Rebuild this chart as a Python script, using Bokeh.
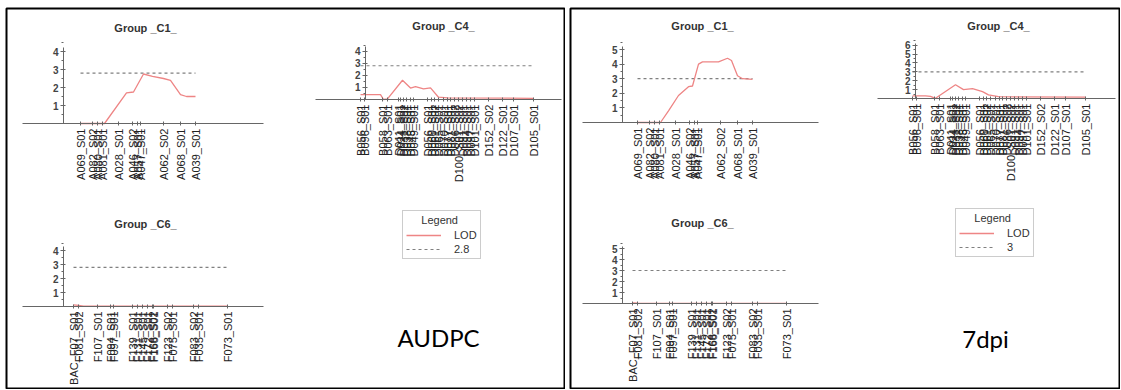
from bokeh.plotting import figure
from bokeh.models import (Range1d, FixedTicker, Legend, LegendItem, Label, LinearAxis)
from bokeh.layouts import row
from bokeh.embed import file_html
from bokeh.resources import INLINE

# ---------------- data ----------------
c1_names = ["A069_S01", "A082_S02", "A080_S01", "A081_S01", "A028_S01", "A046_S02",
            "A057_S01", "A047_S01", "A062_S02", "A068_S01", "A039_S01"]
c1_pos = [0, 6, 8.5, 11, 19, 26, 28.5, 30, 41.5, 50, 57.5]

c4_names = ["B056_S01", "B096_S01", "B058_S01", "B063_S01", "D011_S01", "D024_S01",
            "D031_S02", "D038_S01", "D045_S01", "D049_S01", "D056_S01", "D060_S01",
            "D061_S02", "D065_S01", "D070_S01", "D077_S01", "D081_S01", "D086_S02",
            "D100_S01_S02", "D091_S01", "D094_S01", "D097_S01", "D101_S01",
            "D152_S02", "D122_S01", "D107_S01", "D105_S01"]
c4_pos = [0, 2, 11, 13.5, 19, 20, 21.5, 23, 25, 26.5, 33.5, 35.5, 37, 39, 41.5,
          43.5, 45, 47, 49, 51, 53, 55, 57, 64, 71, 76.5, 86.5]

c6_names = ["BAC_F07_S01", "F081_S02", "F107_S01", "F094_S01", "F097_S01", "F139_S01",
            "F131_S01", "F145_S01", "F172_S01", "F166_S02", "F168_S01", "F123_S02",
            "F075_S01", "F083_S02", "F035_S01", "F073_S01"]
c6_pos = [0, 2.5, 12, 18.5, 20, 29.5, 32, 34.5, 37, 39.5, 40, 47, 49.5, 60, 62.5, 77]

# LOD profiles, AUDPC
audpc_c1_x = [0, 11, 12, 23, 26.5, 31.5, 36, 41.5, 45, 50, 53, 57.5]
audpc_c1_lod = [0, 0, 0, 1.7, 1.75, 2.75, 2.62, 2.5, 2.4, 1.6, 1.5, 1.5]
audpc_c4_x = [0, 10, 11.5, 13.5, 21, 25, 27.5, 31.5, 35, 39, 43.5, 86.5]
audpc_c4_lod = [0.41, 0.41, 0.0, 0.05, 1.6, 0.95, 1.07, 0.88, 0.96, 0.19, 0.13, 0.1]
audpc_c6_x = [0, 2.5, 5, 77]
audpc_c6_lod = [0.12, 0.08, 0.02, 0.02]
audpc_threshold = 2.8

# LOD profiles, 7dpi
dpi7_c1_x = [0, 11.5, 15.5, 20.5, 25.5, 27.5, 30.5, 32.5, 40.5, 45, 47, 50, 52.5, 57.5]
dpi7_c1_lod = [0, 0, 0.8, 1.85, 2.45, 2.5, 4.0, 4.15, 4.15, 4.4, 4.25, 3.2, 3.0, 2.95]
dpi7_c4_x = [0, 6.5, 9, 11.5, 21.5, 25.5, 30, 35, 38, 43, 86.5]
dpi7_c4_lod = [0.3, 0.3, 0.25, 0.02, 1.55, 1.0, 1.1, 0.77, 0.4, 0.2, 0.15]
dpi7_c6_x = [0, 2.5, 5, 77]
dpi7_c6_lod = [0.05, 0.03, 0.02, 0.02]
dpi7_threshold = 3.0

LOD_COLOR = "#ee8585"
THR_COLOR = "#808080"
AX_COLOR = "#666666"
TXT_COLOR = "#222222"
FONT = "Liberation Sans"


def make_panel(canvas_w, canvas_h, frame_box):
    fl, fr, ft, fb = frame_box  # px of frame edges, relative to canvas
    p = figure(width=canvas_w, height=canvas_h, x_range=Range1d(0, 1), y_range=Range1d(0, 1),
               x_axis_type=None, y_axis_type=None,
               output_backend="svg", toolbar_location=None,
               min_border_left=fl, min_border_right=canvas_w - fr,
               min_border_top=ft, min_border_bottom=canvas_h - fb)
    p.grid.visible = False
    p.outline_line_color = "black"
    p.outline_line_width = 2
    p.background_fill_color = "white"
    p.border_fill_color = "white"
    return p


def add_group(p, key, frame_box, title, names, pos, cx, cy, thr, geo):
    fl, fr, ft, fb = frame_box
    a, xa0, xa1, yax, b, s, ymax, tx, ty = geo
    xn, yn = key + "x", key + "y"
    p.extra_x_ranges[xn] = Range1d((fl - a) / 2.0, (fr - a) / 2.0)
    p.extra_y_ranges[yn] = Range1d((b - fb) / s, (b - ft) / s)

    xa = LinearAxis(x_range_name=xn, y_range_name=yn, fixed_location=0,
                    bounds=((xa0 - a) / 2.0, (xa1 - a) / 2.0))
    xa.ticker = FixedTicker(ticks=pos, minor_ticks=[])
    xa.major_label_overrides = {float(v): n for v, n in zip(pos, names)}
    xa.major_label_orientation = 1.5707963
    xa.major_label_text_font = FONT
    xa.major_label_text_font_size = "11px"
    xa.major_label_text_color = TXT_COLOR
    xa.major_label_standoff = 3
    xa.axis_line_color = AX_COLOR
    xa.major_tick_line_color = AX_COLOR
    xa.major_tick_in = 2
    xa.major_tick_out = 2
    p.add_layout(xa, "below")

    yticks = list(range(1, int(ymax) + 1))
    ya = LinearAxis(x_range_name=xn, y_range_name=yn, fixed_location=(yax - a) / 2.0,
                    bounds=(0, ymax))
    ya.ticker = FixedTicker(ticks=yticks,
                            minor_ticks=[t - 0.5 for t in yticks] + [yticks[-1] + 0.5])
    ya.major_label_text_font = FONT
    ya.major_label_text_font_size = "10px"
    ya.major_label_text_font_style = "bold"
    ya.major_label_text_color = "#444444"
    ya.major_label_standoff = 2
    ya.axis_line_color = AX_COLOR
    ya.major_tick_line_color = AX_COLOR
    ya.minor_tick_line_color = AX_COLOR
    ya.major_tick_in = 2
    ya.major_tick_out = 3
    ya.minor_tick_in = 0
    ya.minor_tick_out = 2
    p.add_layout(ya, "left")

    r_thr = p.line(x=[pos[0], pos[-1]], y=[thr, thr], line_color=THR_COLOR, line_width=1.2,
                   line_dash="3 3", x_range_name=xn, y_range_name=yn)
    r_lod = p.line(x=cx, y=cy, line_color=LOD_COLOR, line_width=1.3,
                   x_range_name=xn, y_range_name=yn)

    p.add_layout(Label(x=tx - fl, y=fb - ty, x_units="screen", y_units="screen",
                       text=title, text_font=FONT, text_font_size="11px",
                       text_font_style="bold", text_color="#333333",
                       text_align="center", text_baseline="middle"))
    return r_lod, r_thr


def add_legend(p, frame_box, r_lod, r_thr, thr_label, box_lb, caption, cap_c):
    fl, fr, ft, fb = frame_box
    leg = Legend(items=[LegendItem(label="LOD", renderers=[r_lod]),
                        LegendItem(label=thr_label, renderers=[r_thr])],
                 title="\u00a0\u00a0\u00a0\u00a0\u00a0Legend",
                 location=(box_lb[0] - fl, fb - box_lb[1]))
    leg.title_text_font = FONT
    leg.title_text_font_size = "11px"
    leg.title_text_font_style = "normal"
    leg.title_text_color = "#333333"
    leg.title_standoff = 3
    leg.label_text_font = FONT
    leg.label_text_font_size = "11px"
    leg.label_text_color = "#333333"
    leg.label_height = 10
    leg.label_standoff = 13
    leg.glyph_width = 35
    leg.glyph_height = 10
    leg.padding = 3
    leg.spacing = 2
    leg.margin = 0
    leg.border_line_color = "#999999"
    leg.border_line_width = 1
    leg.background_fill_color = "white"
    p.add_layout(leg)
    p.add_layout(Label(x=cap_c[0] - fl, y=fb - cap_c[1], x_units="screen", y_units="screen",
                       text=caption, text_font="Lato", text_font_size="24px",
                       text_color="black", text_align="center", text_baseline="middle"))


# ---- left panel (AUDPC): canvas page x 0..565 ----
LF = (6, 564, 8, 388)
left = make_panel(565, 389, LF)
lod_l, thr_l = add_group(left, "c1", LF, "Group _C1_", c1_names, c1_pos, audpc_c1_x,
                         audpc_c1_lod, audpc_threshold,
                         (80, 22, 263, 63, 123, 18.0, 4.2, 145, 27))
add_group(left, "c4", LF, "Group _C4_", c4_names, c4_pos, audpc_c4_x, audpc_c4_lod,
          audpc_threshold, (360, 315, 561, 365, 99, 12.05, 4.4, 443, 25))
add_group(left, "c6", LF, "Group _C6_", c6_names, c6_pos, audpc_c6_x, audpc_c6_lod,
          audpc_threshold, (73, 22, 263, 63, 306, 14.0, 4.3, 145, 223))
add_legend(left, LF, lod_l, thr_l, "2.8", (402, 259), "AUDPC", (438, 337))

# ---- right panel (7dpi): canvas page x 565..1120, coordinates relative to canvas ----
OX = 565
RF = (570 - OX, 1119 - OX, 8, 388)
right = make_panel(555, 389, RF)
lod_r, thr_r = add_group(right, "c1", RF, "Group _C1_", c1_names, c1_pos, dpi7_c1_x,
                         dpi7_c1_lod, dpi7_threshold,
                         (637 - OX, 582 - OX, 818 - OX, 622 - OX, 122, 14.6, 5.2, 702 - OX, 25))
add_group(right, "c4", RF, "Group _C4_", c4_names, c4_pos, dpi7_c4_x, dpi7_c4_lod,
          dpi7_threshold, (912 - OX, 877 - OX, 1115 - OX, 915 - OX, 98, 8.9, 6.2, 998 - OX, 25))
add_group(right, "c6", RF, "Group _C6_", c6_names, c6_pos, dpi7_c6_x, dpi7_c6_lod,
          dpi7_threshold, (632 - OX, 582 - OX, 818 - OX, 622 - OX, 303, 11.0, 5.2, 702 - OX, 222))
add_legend(right, RF, lod_r, thr_r, "3", (955 - OX, 257), "7dpi", (985 - OX, 338))

page = row(left, right)
open("out.html", "w").write(file_html(page, INLINE))
